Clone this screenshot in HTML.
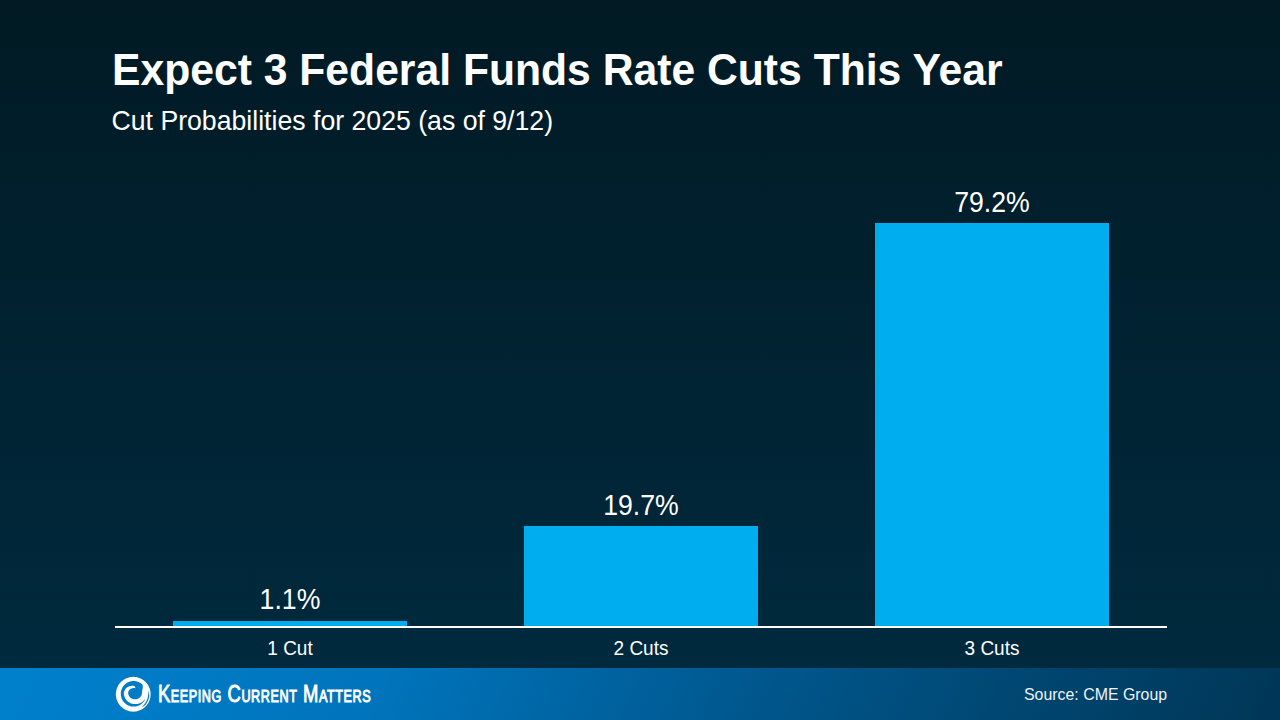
<!DOCTYPE html>
<html>
<head>
<meta charset="utf-8">
<style>
html,body{margin:0;padding:0;}
body{width:1280px;height:720px;overflow:hidden;position:relative;font-family:"Liberation Sans",sans-serif;
  background:linear-gradient(to bottom,#011a24 0%,#002b40 100%);}
.t{position:absolute;white-space:nowrap;color:#fff;line-height:1;transform:scaleY(1.06);transform-origin:0 85%;}
#title{left:112px;top:48.5px;font-size:42.67px;font-weight:bold;}
#sub{left:111.5px;top:107.6px;font-size:26.67px;}
.bar{position:absolute;background:#00aeef;}
#axis{position:absolute;left:115px;top:626px;width:1052px;height:2px;background:#fff;}
.val{font-size:26.67px;text-align:center;width:234px;transform:scaleY(1.1);}
.cat{font-size:19px;text-align:center;width:234px;}
#footer{position:absolute;left:0;top:668px;width:1280px;height:52px;
  background:linear-gradient(116deg,#0080cc 0%,#0074bc 30%,#00568b 60%,#003656 100%);}
#src{left:1024px;top:687px;font-size:15.9px;color:#eef3f7;}
#logo{position:absolute;left:110px;top:670px;}
#brand{left:157.8px;top:683px;font-size:23.3px;font-weight:normal;-webkit-text-stroke:0.9px #fff;letter-spacing:0.7px;font-variant:small-caps;color:#fff;transform:scaleX(0.79);transform-origin:0 85%;}
</style>
</head>
<body>
<div id="title" class="t">Expect 3 Federal Funds Rate Cuts This Year</div>
<div id="sub" class="t">Cut Probabilities for 2025 (as of 9/12)</div>

<div class="bar" style="left:173px;top:621px;width:234px;height:5px"></div>
<div class="bar" style="left:524px;top:526px;width:234px;height:100px"></div>
<div class="bar" style="left:875px;top:223px;width:234px;height:403px"></div>
<div id="axis"></div>

<div class="t val" style="left:173px;top:587px">1.1%</div>
<div class="t val" style="left:524px;top:493px">19.7%</div>
<div class="t val" style="left:875px;top:190px">79.2%</div>

<div class="t cat" style="left:173px;top:639px">1 Cut</div>
<div class="t cat" style="left:524px;top:639px">2 Cuts</div>
<div class="t cat" style="left:875px;top:639px">3 Cuts</div>

<div id="footer"></div>
<svg id="logo" width="50" height="50" viewBox="0 0 50 50">
  <path d="M40.65 24.25 L40.58 22.73 L40.39 21.23 L40.06 19.75 L39.60 18.30 L39.02 16.90 L38.32 15.55 L37.50 14.27 L36.58 13.07 L35.55 11.95 L34.43 10.92 L33.23 10.00 L31.95 9.18 L30.60 8.48 L29.20 7.90 L27.75 7.44 L26.27 7.11 L24.77 6.92 L23.25 6.85 L21.73 6.92 L20.23 7.11 L18.75 7.44 L17.30 7.90 L15.90 8.48 L14.55 9.18 L13.27 10.00 L12.07 10.92 L10.95 11.95 L9.92 13.07 L9.00 14.27 L8.18 15.55 L7.48 16.90 L6.90 18.30 L6.44 19.75 L6.11 21.23 L5.92 22.73 L5.85 24.25 L5.92 25.77 L6.11 27.27 L6.44 28.75 L6.90 30.20 L7.48 31.60 L8.18 32.95 L9.00 34.23 L9.92 35.43 L10.95 36.55 L12.07 37.58 L13.27 38.50 L14.55 39.32 L15.90 40.02 L17.30 40.60 L18.75 41.06 L20.23 41.39 L21.73 41.58 L23.25 41.65 L24.77 41.58 L26.27 41.39 L27.75 41.06 L29.20 40.60 L30.60 40.02 L31.95 39.32 L33.23 38.50 L34.43 37.58 L35.55 36.55 L36.58 35.43 L37.50 34.23 L38.32 32.95 L39.02 31.60 L39.60 30.20 L40.06 28.75 L40.39 27.27 L40.58 25.77ZM36.35 24.92 L36.21 26.02 L35.96 27.11 L35.63 28.18 L35.20 29.21 L34.69 30.20 L34.09 31.14 L33.41 32.03 L32.65 32.85 L31.83 33.61 L30.94 34.29 L30.00 34.89 L29.01 35.40 L27.98 35.83 L26.91 36.16 L25.82 36.41 L24.72 36.55 L23.60 36.60 L22.48 36.55 L21.38 36.41 L20.29 36.16 L19.22 35.83 L18.19 35.40 L17.20 34.89 L16.26 34.29 L15.37 33.61 L14.55 32.85 L13.79 32.03 L13.11 31.14 L12.51 30.20 L12.00 29.21 L11.57 28.18 L11.24 27.11 L10.99 26.02 L10.85 24.92 L10.80 23.80 L10.85 22.68 L10.99 21.58 L11.24 20.49 L11.57 19.42 L12.00 18.39 L12.51 17.40 L13.11 16.46 L13.79 15.57 L14.55 14.75 L15.37 13.99 L16.26 13.31 L17.20 12.71 L18.19 12.20 L19.22 11.77 L20.29 11.44 L21.38 11.19 L22.48 11.05 L23.60 11.00 L24.72 11.05 L25.82 11.19 L26.91 11.44 L27.98 11.77 L29.01 12.20 L30.00 12.71 L30.94 13.31 L31.83 13.99 L32.65 14.75 L33.41 15.57 L34.09 16.46 L34.69 17.40 L35.20 18.39 L35.63 19.42 L35.96 20.49 L36.21 21.58 L36.35 22.68 L36.40 23.80ZM25.65 18.12 L25.42 17.68 L25.14 17.04 L24.80 16.48 L24.40 16.09 L23.99 15.90 L23.57 15.83 L23.15 15.79 L22.72 15.78 L22.27 15.79 L21.83 15.83 L21.36 15.89 L20.88 15.95 L20.38 16.02 L19.86 16.12 L19.35 16.27 L18.83 16.44 L18.31 16.66 L17.80 16.92 L17.30 17.22 L16.82 17.56 L16.37 17.95 L15.97 18.38 L15.59 18.85 L15.23 19.35 L14.90 19.88 L14.60 20.44 L14.33 21.02 L14.10 21.62 L13.92 22.25 L13.82 22.89 L13.82 23.54 L13.88 24.19 L13.97 24.83 L14.10 25.47 L14.27 26.10 L14.48 26.72 L14.72 27.32 L14.99 27.92 L15.30 28.50 L15.64 29.06 L16.01 29.60 L16.42 30.11 L16.86 30.61 L17.32 31.07 L17.82 31.50 L18.34 31.90 L18.89 32.28 L19.45 32.62 L20.03 32.92 L20.63 33.20 L21.25 33.44 L21.87 33.64 L22.51 33.80 L23.16 33.93 L23.81 34.03 L24.47 34.08 L25.12 34.11 L25.78 34.10 L26.44 34.07 L27.10 34.00 L27.76 33.89 L28.41 33.74 L29.05 33.55 L29.68 33.33 L30.29 33.07 L30.90 32.78 L31.48 32.45 L32.05 32.08 L32.60 31.69 L33.12 31.26 L33.62 30.81 L34.09 30.32 L34.54 29.81 L34.97 29.28 L35.39 28.73 L35.79 28.16 L36.15 27.57 L36.49 26.96 L36.79 26.32 L37.07 25.67 L37.33 25.00 L37.58 24.31 L37.81 23.61 L37.96 22.88 L37.95 22.14 L37.79 21.42 L37.51 20.72 L37.19 20.05 L36.85 19.41 L36.50 18.80 L36.15 18.20 L35.79 17.61 L35.41 17.05 L35.00 16.51 L34.59 15.99 L34.16 15.48 L33.71 15.00 L33.23 14.55 L32.74 14.12 L32.37 14.53 L32.62 15.15 L32.73 15.86 L32.78 16.57 L32.78 17.25 L32.73 17.91 L32.63 18.55 L32.49 19.15 L32.30 19.73 L32.16 20.24 L32.10 20.70 L32.10 21.13 L32.10 21.54 L32.07 21.95 L32.04 22.35 L32.01 22.75 L31.98 23.14 L31.94 23.54 L31.87 23.93 L31.78 24.31 L31.66 24.69 L31.53 25.06 L31.37 25.42 L31.19 25.77 L30.99 26.11 L30.77 26.44 L30.54 26.75 L30.28 27.05 L30.02 27.33 L29.73 27.60 L29.43 27.85 L29.12 28.08 L28.79 28.30 L28.46 28.49 L28.11 28.67 L27.75 28.82 L27.39 28.95 L27.02 29.07 L26.64 29.16 L26.26 29.23 L25.88 29.27 L25.50 29.30 L25.11 29.31 L24.73 29.30 L24.34 29.29 L23.96 29.25 L23.58 29.18 L23.20 29.10 L22.83 28.99 L22.46 28.87 L22.10 28.72 L21.74 28.55 L21.40 28.36 L21.07 28.15 L20.75 27.92 L20.44 27.67 L20.15 27.41 L19.88 27.12 L19.62 26.82 L19.38 26.50 L19.16 26.17 L18.96 25.83 L18.78 25.48 L18.62 25.11 L18.48 24.74 L18.36 24.36 L18.26 23.97 L18.19 23.58 L18.13 23.18 L18.12 22.78 L18.17 22.38 L18.26 21.99 L18.40 21.61 L18.55 21.25 L18.72 20.90 L18.91 20.56 L19.12 20.25 L19.34 19.94 L19.59 19.66 L19.86 19.41 L20.15 19.18 L20.46 18.99 L20.77 18.81 L21.09 18.66 L21.41 18.54 L21.73 18.43 L22.05 18.35 L22.37 18.29 L22.67 18.23 L22.95 18.16 L23.23 18.09 L23.51 18.04 L23.79 18.01 L24.06 17.99 L24.34 17.99 L24.61 18.01 L24.87 18.06 L25.13 18.14 L25.38 18.23 L25.63 18.30Z" fill="#fff" fill-rule="nonzero"/><path d="M31.52 37.48 L32.12 37.17 L32.71 36.82 L33.29 36.46 L33.86 36.06 L34.41 35.64 L34.94 35.19 L35.46 34.72 L35.91 34.19 L36.33 33.63 L36.73 33.06 L37.10 32.47 L37.44 31.86 L37.75 31.24 L38.04 30.60 L38.30 29.96 L38.54 29.30 L38.74 28.63 L38.92 27.96 L39.06 27.27 L39.18 26.59 L39.27 25.89 L39.28 25.20 L39.24 24.50 L39.17 23.81 L39.07 23.12 L38.94 22.45 L38.79 21.78 L38.60 21.12 L38.39 20.48 L38.39 20.48 L38.43 21.16 L38.45 21.83 L38.44 22.51 L38.39 23.17 L38.32 23.83 L38.22 24.48 L38.09 25.13 L37.98 25.76 L37.90 26.40 L37.80 27.03 L37.68 27.66 L37.52 28.29 L37.34 28.90 L37.13 29.51 L36.90 30.11 L36.64 30.70 L36.35 31.28 L36.04 31.84 L35.71 32.39 L35.35 32.93 L34.97 33.45 L34.58 33.97 L34.22 34.51 L33.83 35.05 L33.42 35.57 L32.98 36.07 L32.51 36.56 L32.03 37.03 L31.52 37.48Z" fill="#0a7cc4"/>
</svg>
<div id="brand" class="t">Keeping Current Matters</div>
<div id="src" class="t">Source: CME Group</div>
</body>
</html>
